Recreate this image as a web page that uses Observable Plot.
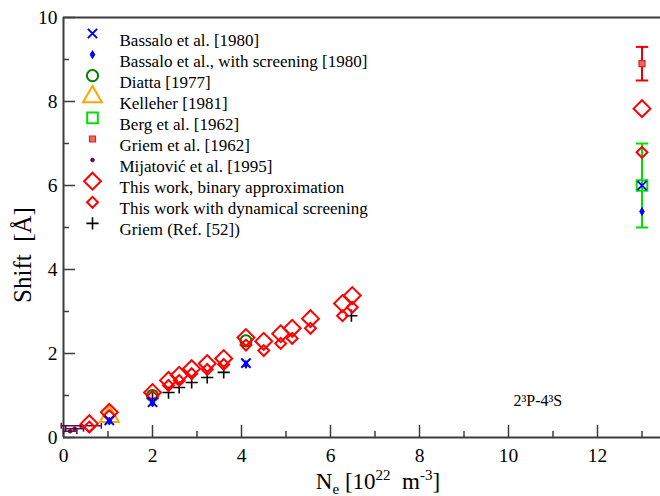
<!DOCTYPE html>
<html><head><meta charset="utf-8">
<script src="https://cdn.jsdelivr.net/npm/d3@7"></script>
<script src="https://cdn.jsdelivr.net/npm/@observablehq/plot@0.6"></script>
<style>body{margin:0;background:#fff;} svg{display:block;}</style>
</head><body><div id="chart"></div>
<script>
// ---- data ----
const bassaloX = [1.03, 2.0, 4.1, 13.0];
const bassaloY = [0.41, 0.84, 1.77, 6.0];
const bassaloScrX = [1.03, 2.0, 4.1, 13.0];
const bassaloScrY = [0.39, 0.82, 1.74, 5.38];
const diattaX = [2.0, 4.1];
const diattaY = [1.0, 2.3];
const kelleherX = [1.03];
const kelleherY = [0.5];
const bergX = [13.0], bergY = [6.0], bergLo = [5.0], bergHi = [7.0];
const griem62X = [13.0], griem62Y = [8.9], griem62Lo = [8.5], griem62Hi = [9.3];
const mijX = [0.15, 0.25, 0.4], mijY = [0.15, 0.21, 0.28], mijXerr = [0.15, 0.2, 0.45];
const binX = [0.58, 1.03, 2.0, 2.36, 2.6, 2.88, 3.23, 3.6, 4.1, 4.5, 4.88, 5.14, 5.55, 6.27, 6.49, 13.0];
const binY = [0.33, 0.6, 1.07, 1.36, 1.48, 1.64, 1.76, 1.88, 2.38, 2.29, 2.47, 2.6, 2.83, 3.19, 3.38, 7.83];
const dynX = [0.58, 1.03, 2.0, 2.36, 2.6, 2.88, 3.23, 3.6, 4.1, 4.5, 4.88, 5.14, 5.55, 6.27, 6.49, 13.0];
const dynY = [0.25, 0.52, 0.98, 1.24, 1.36, 1.52, 1.62, 1.74, 2.2, 2.07, 2.24, 2.36, 2.6, 2.9, 3.1, 6.79];
const griemX = [2.0, 2.36, 2.6, 2.88, 3.23, 3.6, 6.47];
const griemY = [0.93, 1.07, 1.19, 1.31, 1.43, 1.55, 2.9];

const xMajorTicks = [0, 2, 4, 6, 8, 10, 12];
const xMinorTicks = [1, 3, 5, 7, 9, 11, 13];
const yMajorTicks = [0, 2, 4, 6, 8, 10];
const yMinorTicks = [1, 3, 5, 7, 9];

const legendLabels = [
  "Bassalo et al. [1980]",
  "Bassalo et al., with screening [1980]",
  "Diatta [1977]",
  "Kelleher [1981]",
  "Berg et al. [1962]",
  "Griem et al. [1962]",
  "Mijatović et al. [1995]",
  "This work, binary approximation",
  "This work with dynamical screening",
  "Griem (Ref. [52])"
];
const annotationText = "2³P-4³S";

// ---- styles ----
const W = 660, H = 496;
const mL = 63, mR = 0, mT = 17, mB = 59;
const frameW = W - mL - mR, frameH = H - mT - mB;
const pxPerX = 44.5;
const xMax = frameW / pxPerX;
const axisColor = "#3c3c3c";
const font = "'Liberation Serif', 'Times New Roman', serif";

const capH = {draw(ctx, size) { const r = Math.sqrt(size) / 2; ctx.moveTo(-r, 0); ctx.lineTo(r, 0); }};
const capV = {draw(ctx, size) { const r = Math.sqrt(size) / 2; ctx.moveTo(0, -r); ctx.lineTo(0, r); }};

const styles = [
  {symbol: "times", r: 4.3, stroke: "#0000ff", fill: "none", strokeWidth: 2},
  {symbol: "diamond", r: 2.4, stroke: "#0000ff", fill: "#0000ff", strokeWidth: 1},
  {symbol: "circle", r: 5.6, stroke: "#008000", fill: "none", strokeWidth: 2},
  {symbol: "triangle", r: 7, stroke: "#ffa500", fill: "none", strokeWidth: 2},
  {symbol: "square", r: 6, stroke: "#00e000", fill: "none", strokeWidth: 2},
  {symbol: "square", r: 3.4, stroke: "#dd2222", fill: "#ee6666", strokeWidth: 1.2},
  {symbol: "circle", r: 2, stroke: "#5e0b45", fill: "#5e0b45", strokeWidth: 0.5},
  {symbol: "diamond2", r: 7.6, stroke: "#ff0000", fill: "none", strokeWidth: 2},
  {symbol: "diamond2", r: 4.9, stroke: "#ff0000", fill: "none", strokeWidth: 2},
  {symbol: "plus", r: 4, stroke: "#000000", fill: "none", strokeWidth: 1.6}
];
const series = [
  [bassaloX, bassaloY], [bassaloScrX, bassaloScrY], [diattaX, diattaY], [kelleherX, kelleherY],
  [bergX, bergY], [griem62X, griem62Y], [mijX, mijY], [binX, binY], [dynX, dynY], [griemX, griemY]
];
const drawOrder = [6, 9, 3, 2, 4, 7, 8, 5, 1, 0];

const marks = [];
// frame lines
marks.push(Plot.ruleY([0, 10], {stroke: axisColor, strokeWidth: 2}));
marks.push(Plot.ruleX([0], {stroke: axisColor, strokeWidth: 2}));
// inward ticks
marks.push(Plot.tickX(xMajorTicks, {x: d => d, insetTop: frameH - 12, stroke: axisColor, strokeWidth: 1.5}));
marks.push(Plot.tickX(xMinorTicks, {x: d => d, insetTop: frameH - 6, stroke: axisColor, strokeWidth: 1.5}));
marks.push(Plot.tickY(yMajorTicks, {y: d => d, insetRight: frameW - 12, stroke: axisColor, strokeWidth: 1.5}));
marks.push(Plot.tickY(yMinorTicks, {y: d => d, insetRight: frameW - 6, stroke: axisColor, strokeWidth: 1.5}));

// error bars: Berg (green) and Griem 1962 (red)
const bergIdx = d3.range(bergX.length);
marks.push(Plot.ruleX(bergIdx, {x: i => bergX[i], y1: i => bergLo[i], y2: i => bergHi[i], stroke: "#00e000", strokeWidth: 2}));
marks.push(Plot.dot(bergIdx.flatMap(i => [[bergX[i], bergLo[i]], [bergX[i], bergHi[i]]]), {x: d => d[0], y: d => d[1], symbol: capH, r: 7, stroke: "#00e000", strokeWidth: 2}));
const g62Idx = d3.range(griem62X.length);
marks.push(Plot.ruleX(g62Idx, {x: i => griem62X[i], y1: i => griem62Lo[i], y2: i => griem62Hi[i], stroke: "#ee0000", strokeWidth: 2}));
marks.push(Plot.dot(g62Idx.flatMap(i => [[griem62X[i], griem62Lo[i]], [griem62X[i], griem62Hi[i]]]), {x: d => d[0], y: d => d[1], symbol: capH, r: 7, stroke: "#ee0000", strokeWidth: 2}));
// Mijatović horizontal error bars
const mijIdx = d3.range(mijX.length);
marks.push(Plot.ruleY(mijIdx, {y: i => mijY[i], x1: i => mijX[i] - mijXerr[i], x2: i => mijX[i] + mijXerr[i], stroke: "#5e0b45", strokeWidth: 1.5}));
marks.push(Plot.dot(mijIdx.flatMap(i => [[mijX[i] - mijXerr[i], mijY[i]], [mijX[i] + mijXerr[i], mijY[i]]]), {x: d => d[0], y: d => d[1], symbol: capV, r: 3.4, stroke: "#5e0b45", strokeWidth: 1.5}));

// data points
for (const k of drawOrder) {
  const [xs, ys] = series[k];
  const s = styles[k];
  marks.push(Plot.dot(d3.range(xs.length), {x: i => xs[i], y: i => ys[i], ...s}));
}

// legend (inside frame, top-left)
const rowH = 21.1;
legendLabels.forEach((lab, k) => {
  const s = styles[k];
  marks.push(Plot.dot([0], {frameAnchor: "top-left", dx: 29, dy: 16 + k * rowH, ...s}));
  marks.push(Plot.text([lab], {text: d => d, frameAnchor: "top-left", dx: 56, dy: 16 + k * rowH, textAnchor: "start", fontSize: 17, fill: "#000"}));
});

// annotation
marks.push(Plot.text([annotationText], {text: d => d, frameAnchor: "bottom-right", dx: -(frameW - (513 - mL)), dy: -32, textAnchor: "start", fontSize: 16, fill: "#000"}));

const plot = Plot.plot({
  width: W, height: H,
  marginLeft: mL, marginRight: mR, marginTop: mT, marginBottom: mB,
  x: {domain: [0, xMax], ticks: xMajorTicks, tickSize: 0, tickPadding: 11, tickFormat: d => String(d), label: null},
  y: {domain: [0, 10], ticks: yMajorTicks, tickSize: 0, tickPadding: 6, tickFormat: d => String(d), label: null},
  style: {fontFamily: font, fontSize: "19.5px", color: "#000", background: "#fff", overflow: "visible"},
  marks
});

const svg = d3.select(plot);
// x label with subscript & superscripts
const xl = svg.append("text").attr("x", 378).attr("y", 489).attr("text-anchor", "middle")
  .attr("font-family", font).attr("font-size", 23).attr("fill", "#000");
xl.append("tspan").text("N");
xl.append("tspan").attr("dy", 5).attr("font-size", 15).text("e");
xl.append("tspan").attr("dy", -5).text("\u00a0[10");
xl.append("tspan").attr("dy", -9).attr("font-size", 15).text("22");
xl.append("tspan").attr("dy", 9).text("\u00a0\u00a0m");
xl.append("tspan").attr("dy", -9).attr("font-size", 15).text("-3");
xl.append("tspan").attr("dy", 9).text("]");
// y label
svg.append("text").attr("transform", "translate(31,255) rotate(-90)").attr("text-anchor", "middle")
  .attr("font-family", font).attr("font-size", 25).attr("fill", "#000").text("Shift\u00a0\u00a0[Å]");

document.getElementById("chart").appendChild(plot);
</script>
</body></html>
